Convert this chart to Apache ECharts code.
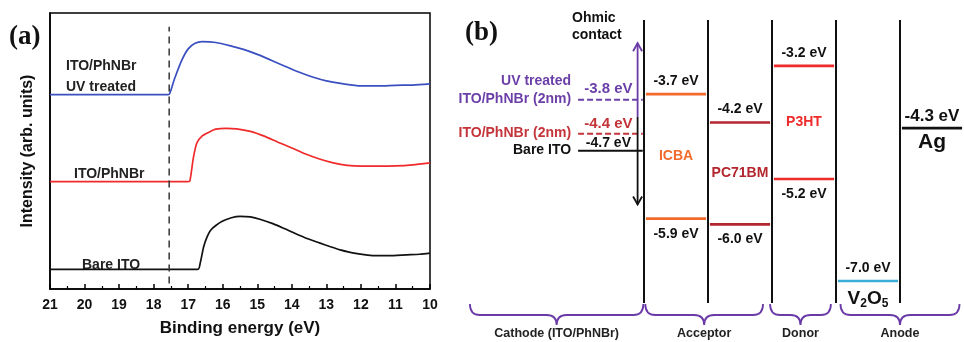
<!DOCTYPE html>
<html>
<head>
<meta charset="utf-8">
<script src="https://cdn.jsdelivr.net/npm/echarts@6/dist/echarts.min.js"></script>
<style>
  html, body { margin: 0; padding: 0; background: #fff; }
  #chart { width: 964px; height: 342px; }
</style>
</head>
<body>
<div id="chart"></div>
<script>
// ---- (a) UPS secondary electron cut-off spectra ----
const energyUV = [21, 17.6, 17.55, 17.4, 17.2, 17.0, 16.8, 16.6, 16.2, 15.8, 15.4, 15.0, 14.6, 14.2, 13.8, 13.4, 13.0, 12.5, 12.0, 11.5, 11.0, 10.5, 10.0];
const intensityUV = [70.4, 70.4, 70.5, 76, 82.5, 87, 89, 89.6, 89.3, 88.2, 86.8, 85, 82.9, 80.7, 78.6, 76.8, 75.4, 74.3, 73.6, 73.6, 73.8, 73.9, 74.3];

const energyPhNBr = [21, 17.0, 16.95, 16.85, 16.75, 16.6, 16.4, 16.2, 15.9, 15.6, 15.2, 14.8, 14.4, 14.0, 13.6, 13.2, 12.8, 12.4, 12.0, 11.5, 11.0, 10.5, 10.0];
const intensityPhNBr = [38.9, 38.9, 39.2, 47.5, 52.9, 55.4, 56.8, 57.9, 58.2, 58, 57.1, 55.4, 53.2, 51.1, 48.9, 47.1, 45.7, 44.8, 44.5, 44.5, 44.6, 45, 45.7];

const energyBare = [21, 16.72, 16.65, 16.55, 16.45, 16.35, 16.2, 16.0, 15.75, 15.5, 15.2, 14.9, 14.55, 14.2, 13.9, 13.56, 13.2, 12.9, 12.6, 12.2, 11.65, 11.2, 10.67, 10.3, 10.0];
const intensityBare = [7.1, 7.1, 9.5, 15.4, 19, 21.3, 23, 24.6, 25.8, 26.3, 26.1, 25.2, 23.7, 21.8, 20.1, 18.3, 16.7, 15.4, 14.2, 13.0, 12.1, 12.1, 12.4, 12.6, 13.0];

const cutoffEnergy = 17.55;

// ---- (b) energy level diagram (eV) ----
const materials = ['ICBA', 'PC71BM', 'P3HT', 'V2O5', 'Ag'];
const lumoLevels = [-3.7, -4.2, -3.2, null, -4.3];
const homoLevels = [-5.9, -6.0, -5.2, -7.0, null];
const cathodeNames = ['UV treated\nITO/PhNBr (2nm)', 'ITO/PhNBr (2nm)', 'Bare ITO'];
const cathodeLevels = [-3.8, -4.4, -4.7];
const groupNames = ['Cathode (ITO/PhNBr)', 'Acceptor', 'Donor', 'Anode'];
const groupStart = [-2.72, 0.02, 1.97, 3.07];
const groupEnd = [-0.01, 1.86, 2.92, 4.93];
const columnEdges = [0, 1, 2, 3, 4];
const arrowLevels = [-2.8, -4.1, -5.65]; // top, joint, bottom

// styles
const FONT = '"Liberation Sans", Arial, sans-serif';
const SERIF = '"Liberation Serif", "Times New Roman", serif';
const materialColors = ['#f26a2c', '#b3262d', '#ee2b2b', '#3aaed8', '#111111'];
const materialTextColors = ['#f26a2c', '#b3262d', '#ee2b2b', '#111111', '#111111'];
const materialNameText = ['ICBA', 'PC71BM', 'P3HT', 'V{s|2}O{s|5}', 'Ag'];
const materialNameFont = [14, 14, 14, 19, 21];
const materialNameOffset = [0, 0, 0, 18, 14];
const cathodeColors = ['#6b3fa8', '#c4343a', '#111111'];
const cathodeLabelGap = [11, 10, 8];
const purple = '#6a3aa6';

const Y_MAX = -2.39, Y_MIN = -7.39;

function zip(xs, ys) { return xs.map((x, i) => [x, ys[i]]); }

// level items [column, value, labelAbove]
const levelData = [];
materials.forEach((m, i) => {
  if (lumoLevels[i] != null) levelData.push([i, lumoLevels[i], 1]);
  if (homoLevels[i] != null) levelData.push([i, homoLevels[i], lumoLevels[i] != null ? 0 : 1]);
});
const nameData = materials.map((m, i) => {
  const hi = lumoLevels[i], lo = homoLevels[i];
  if (hi != null && lo != null) return [i, (hi + lo) / 2];
  return [i, hi != null ? hi : lo];
});

const chart = echarts.init(document.getElementById('chart'));

const option = {
  backgroundColor: '#fff',
  animation: false,
  grid: [
    { left: 50, top: 13, width: 380, height: 280, show: true, borderColor: '#000', borderWidth: 1.5, backgroundColor: 'transparent' },
    { left: 468, top: 20, width: 504, height: 283 }
  ],
  xAxis: [
    {
      gridIndex: 0, type: 'value', min: 10, max: 21, interval: 1, inverse: true,
      axisLine: { show: true, lineStyle: { color: '#000', width: 1.5 } },
      axisTick: { inside: true, length: 5, lineStyle: { color: '#000', width: 1.5 } },
      minorTick: { show: true, splitNumber: 2, length: 3, lineStyle: { color: '#000', width: 1.2 } },
      splitLine: { show: false },
      axisLabel: { color: '#111', fontSize: 14, fontWeight: 'bold', fontFamily: FONT, margin: 9 },
      name: 'Binding energy (eV)', nameLocation: 'middle', nameGap: 31,
      nameTextStyle: { color: '#111', fontSize: 17, fontWeight: 'bold', fontFamily: FONT }
    },
    { gridIndex: 1, type: 'value', min: -2.75, max: 5, show: false }
  ],
  yAxis: [
    {
      gridIndex: 0, type: 'value', min: 0, max: 100,
      axisLine: { show: true, lineStyle: { color: '#000', width: 1.5 } },
      axisTick: { show: false }, axisLabel: { show: false }, splitLine: { show: false },
      name: 'Intensity (arb. units)', nameLocation: 'middle', nameGap: 14, nameRotate: 90,
      nameTextStyle: { color: '#111', fontSize: 16, fontWeight: 'bold', fontFamily: FONT }
    },
    { gridIndex: 1, type: 'value', min: Y_MIN, max: Y_MAX, show: false }
  ],
  graphic: [
    { type: 'text', x: 9, y: 37, style: { text: '(a)', font: 'bold 27px ' + SERIF, fill: '#111', textVerticalAlign: 'middle' } },
    { type: 'text', x: 465, y: 33, style: { text: '(b)', font: 'bold 27px ' + SERIF, fill: '#111', textVerticalAlign: 'middle' } },
    { type: 'text', x: 66, y: 66, style: { text: 'ITO/PhNBr', font: 'bold 14px ' + FONT, fill: '#222', textVerticalAlign: 'middle' } },
    { type: 'text', x: 66, y: 87, style: { text: 'UV treated', font: 'bold 14px ' + FONT, fill: '#222', textVerticalAlign: 'middle' } },
    { type: 'text', x: 74, y: 174, style: { text: 'ITO/PhNBr', font: 'bold 14px ' + FONT, fill: '#222', textVerticalAlign: 'middle' } },
    { type: 'text', x: 82, y: 265, style: { text: 'Bare ITO', font: 'bold 14px ' + FONT, fill: '#222', textVerticalAlign: 'middle' } },
    { type: 'text', x: 572, y: 18, style: { text: 'Ohmic', font: 'bold 14px ' + FONT, fill: '#111', textVerticalAlign: 'middle' } },
    { type: 'text', x: 572, y: 35, style: { text: 'contact', font: 'bold 14px ' + FONT, fill: '#111', textVerticalAlign: 'middle' } }
  ],
  series: [
    {
      type: 'line', xAxisIndex: 0, yAxisIndex: 0, data: zip(energyUV, intensityUV),
      showSymbol: false, smooth: 0.25, lineStyle: { color: '#3a4fc0', width: 1.7 }
    },
    {
      type: 'line', xAxisIndex: 0, yAxisIndex: 0, data: zip(energyPhNBr, intensityPhNBr),
      showSymbol: false, smooth: 0.25, lineStyle: { color: '#f02a2a', width: 1.7 }
    },
    {
      type: 'line', xAxisIndex: 0, yAxisIndex: 0, data: zip(energyBare, intensityBare),
      showSymbol: false, smooth: 0.25, lineStyle: { color: '#111', width: 1.7 }
    },
    {
      type: 'line', xAxisIndex: 0, yAxisIndex: 0, data: [[cutoffEnergy, 2], [cutoffEnergy, 95]],
      showSymbol: false, lineStyle: { color: '#333', width: 1.5, type: [7, 5] }
    },
    // column edges
    {
      type: 'custom', coordinateSystem: 'cartesian2d', xAxisIndex: 1, yAxisIndex: 1,
      data: columnEdges.map(x => [x]),
      renderItem: (params, api) => {
        const t = api.coord([api.value(0), Y_MAX]);
        const b = api.coord([api.value(0), Y_MIN]);
        return { type: 'line', shape: { x1: t[0], y1: t[1], x2: b[0], y2: b[1] }, style: { stroke: '#111', lineWidth: 2 } };
      }
    },
    // material energy levels
    {
      type: 'custom', coordinateSystem: 'cartesian2d', xAxisIndex: 1, yAxisIndex: 1,
      data: levelData,
      renderItem: (params, api) => {
        const col = api.value(0), v = api.value(1), above = api.value(2);
        const p0 = api.coord([col + 0.03, v]);
        const p1 = api.coord([col + 0.97, v]);
        const isAg = materials[col] === 'Ag';
        return {
          type: 'group', children: [
            { type: 'line', shape: { x1: p0[0], y1: p0[1], x2: p1[0], y2: p1[1] }, style: { stroke: materialColors[col], lineWidth: 2.6 } },
            {
              type: 'text', x: (p0[0] + p1[0]) / 2, y: above ? p0[1] - (isAg ? 12 : 13) : p0[1] + 15,
              style: { text: v.toFixed(1) + ' eV', font: 'bold ' + (isAg ? 17 : 14) + 'px ' + FONT, fill: '#111', textAlign: 'center', textVerticalAlign: 'middle', align: 'center', verticalAlign: 'middle' }
            }
          ]
        };
      }
    },
    // material names
    {
      type: 'custom', coordinateSystem: 'cartesian2d', xAxisIndex: 1, yAxisIndex: 1,
      data: nameData,
      renderItem: (params, api) => {
        const i = api.value(0);
        const p = api.coord([i + 0.5, api.value(1)]);
        const fs = materialNameFont[i];
        return {
          type: 'text', x: p[0], y: p[1] + materialNameOffset[i],
          style: {
            text: materialNameText[i], font: 'bold ' + fs + 'px ' + FONT, fill: materialTextColors[i],
            textAlign: 'center', textVerticalAlign: 'middle', align: 'center', verticalAlign: 'middle',
            rich: { s: { font: 'bold 12px ' + FONT, fill: materialTextColors[i], padding: [9, 0, 0, 0] } }
          }
        };
      }
    },
    // cathode work functions
    {
      type: 'custom', coordinateSystem: 'cartesian2d', xAxisIndex: 1, yAxisIndex: 1,
      data: cathodeLevels.map((v, i) => [i, v]),
      renderItem: (params, api) => {
        const i = api.value(0), v = api.value(1);
        const p0 = api.coord([-1.03, v]);
        const p1 = api.coord([-0.02, v]);
        const c = cathodeColors[i];
        return {
          type: 'group', children: [
            { type: 'line', shape: { x1: p0[0], y1: p0[1], x2: p1[0], y2: p1[1] }, style: { stroke: c, lineWidth: 2, lineDash: i < 2 ? [6, 3] : null } },
            {
              type: 'text', x: (p0[0] + p1[0]) / 2 - 2, y: p0[1] - cathodeLabelGap[i],
              style: { text: v.toFixed(1) + ' eV', font: 'bold ' + (i === 2 ? 14 : 15) + 'px ' + FONT, fill: c, textAlign: 'center', textVerticalAlign: 'middle', align: 'center', verticalAlign: 'middle' }
            },
            {
              type: 'text', x: p0[0] - 7, y: p0[1] + 8,
              style: { text: cathodeNames[i], font: 'bold 14px ' + FONT, fill: c, textAlign: 'right', textVerticalAlign: 'bottom', align: 'right', verticalAlign: 'bottom', lineHeight: 18 }
            }
          ]
        };
      }
    },
    // ohmic contact arrow
    {
      type: 'custom', coordinateSystem: 'cartesian2d', xAxisIndex: 1, yAxisIndex: 1,
      data: [[-0.1, arrowLevels[1], arrowLevels[0], 0], [-0.1, arrowLevels[1], arrowLevels[2], 1]],
      renderItem: (params, api) => {
        const a = api.coord([api.value(0), api.value(1)]);
        const b = api.coord([api.value(0), api.value(2)]);
        const c = api.value(3) === 0 ? purple : '#111';
        const d = b[1] < a[1] ? 8 : -8;
        return {
          type: 'group', children: [
            { type: 'line', shape: { x1: a[0], y1: a[1], x2: b[0], y2: b[1] }, style: { stroke: c, lineWidth: 1.8 } },
            { type: 'polyline', shape: { points: [[b[0] - 4.5, b[1] + d], [b[0], b[1]], [b[0] + 4.5, b[1] + d]] }, style: { stroke: c, lineWidth: 1.8, fill: null } }
          ]
        };
      }
    },
    // group braces
    {
      type: 'custom', coordinateSystem: 'cartesian2d', xAxisIndex: 1, yAxisIndex: 1,
      data: groupNames.map((n, i) => [groupStart[i], groupEnd[i], i]),
      renderItem: (params, api) => {
        const l = api.coord([api.value(0), Y_MIN]);
        const r = api.coord([api.value(1), Y_MIN]);
        const xl = l[0], xr = r[0], xm = (xl + xr) / 2;
        const y0 = l[1] + 1, y1 = y0 + 11, y2 = y0 + 21;
        const path = 'M' + xl + ',' + y0 + ' Q' + xl + ',' + y1 + ' ' + (xl + 10) + ',' + y1 +
          ' L' + (xm - 10) + ',' + y1 + ' Q' + xm + ',' + y1 + ' ' + xm + ',' + y2 +
          ' Q' + xm + ',' + y1 + ' ' + (xm + 10) + ',' + y1 +
          ' L' + (xr - 10) + ',' + y1 + ' Q' + xr + ',' + y1 + ' ' + xr + ',' + y0;
        return {
          type: 'group', children: [
            { type: 'path', shape: { pathData: path }, style: { stroke: purple, lineWidth: 1.8, fill: null } },
            {
              type: 'text', x: xm, y: y0 + 30,
              style: { text: groupNames[api.value(2)], font: 'bold 12.5px ' + FONT, fill: '#222', textAlign: 'center', textVerticalAlign: 'middle', align: 'center', verticalAlign: 'middle' }
            }
          ]
        };
      }
    }
  ]
};

chart.setOption(option);
</script>
</body>
</html>
